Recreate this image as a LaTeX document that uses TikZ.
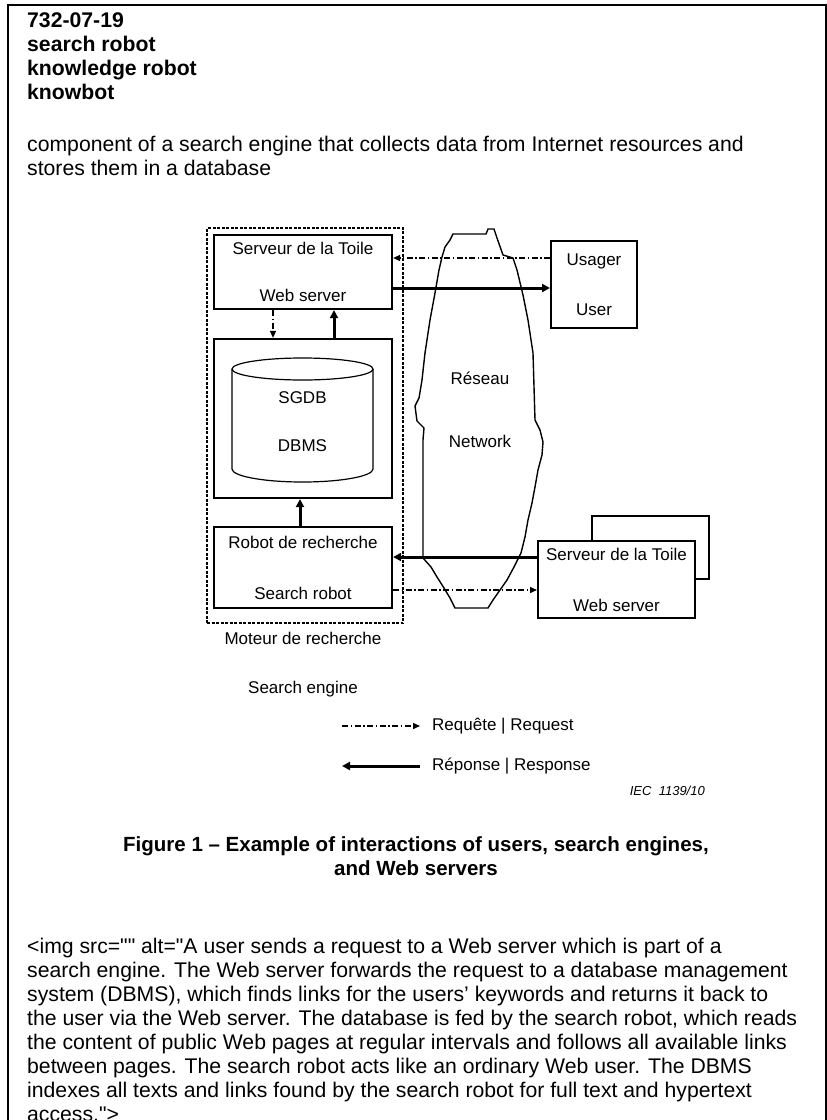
\documentclass[tikz,border=0pt]{standalone}
\usepackage{fontspec}
\setmainfont{Liberation Sans}
\usetikzlibrary{positioning, arrows.meta, calc}

\newcommand{\lblfont}{\fontsize{17}{20}\selectfont}
\newcommand{\txtfont}{\fontsize{21.2}{24}\selectfont}
\newcommand{\capfont}{\fontsize{20.5}{24}\selectfont}

\begin{document}
\begin{tikzpicture}[
  x=1pt, y=-1pt,
  >=Stealth,
  box/.style={rectangle, draw, line width=2.2pt, fill=white, align=center,
    font=\lblfont, inner sep=0pt},
  engine/.style={rectangle, draw, line width=1.6pt,
    dash pattern=on 3pt off 1.5pt,
    minimum width=196pt, minimum height=395pt},
  resp/.style={-{Triangle[length=8pt, width=8pt]}, line width=3pt},
  req/.style={-{Triangle[length=7pt, width=6pt]}, line width=1.4pt,
    dash pattern=on 6pt off 2.5pt on 1.5pt off 2.5pt},
  lbl/.style={font=\lblfont, align=center, inner sep=0pt},
  txt/.style={font=\txtfont, anchor=base west, inner sep=0pt},
]
\useasboundingbox (0,0) rectangle (827,1120);

% --- Page frame and entry ---
\draw[line width=1.6pt] (8,1125) -- (8,5) -- (826,5) -- (826,1125);

\foreach \ltext [count=\i from 0] in {732-07-19, search robot,
    knowledge robot, knowbot}
  \node[txt, font=\txtfont\bfseries] (hd\i) at (27, 27+24*\i) {\ltext};

\node[txt] (def1) at (27,151)
  {component of a search engine that collects data from Internet resources and};
\node[txt] (def2) at (27,175) {stores them in a database};

% --- Search engine ---
\node[engine] (eng) at (305,425.5) {};
\node[box, minimum width=178pt, minimum height=74pt] (ws) at (303,272)
  {Serveur de la Toile\\[27pt]Web server};
\node[box, minimum width=178pt, minimum height=159pt] (db) at (303,418.5) {};
\node[box, minimum width=178pt, minimum height=81pt] (rob) at (303,567.5)
  {Robot de recherche\\[31pt]Search robot};

% database drum
\draw[line width=1.2pt, fill=white] (232,369) -- (232,469)
  arc[start angle=180, end angle=0, x radius=70.5, y radius=13] -- (373,369);
\draw[line width=1.2pt] (302.5,369) ellipse[x radius=70.5, y radius=11];
\node[lbl] (dbms) at (302.5,422) {SGDB\\[28pt]DBMS};

\draw[req] ([xshift=-30pt]ws.south) -- ([xshift=-30pt]db.north);
\draw[resp] ([xshift=31pt]db.north) -- ([xshift=31pt]ws.south);
\draw[resp] ([xshift=-3pt]rob.north) -- ([xshift=-3pt]db.south);

\node[lbl] (englbl) at (303,665) {Moteur de recherche\\[29pt]Search engine};

% --- Network ---
\draw[line width=1.4pt] (453,234) -- (486,234) -- (488,229) -- (494,229)
  -- (497,238) -- (503,255) -- (513,258) -- (517,270) -- (523,295)
  -- (528,320) -- (533,353) -- (535,420) -- (540,430) -- (543,442)
  -- (542,455) -- (538,470) -- (535,487) -- (532,503) -- (528,520)
  -- (525,537) -- (521,553) -- (514,567) -- (507,580) -- (500,590)
  -- (493,600) -- (488,608) -- (455,608) -- (450,598) -- (444,588)
  -- (437,577) -- (431,567) -- (423,558) -- (423,440) -- (424,428)
  -- (417,421) -- (415,406) -- (419,398) -- (422,380) -- (425,353)
  -- (430,320) -- (435,293) -- (439,270) -- (442,257) -- (445,247)
  -- (450,240) -- cycle;
\node[lbl] (net) at (480,410) {Réseau\\[43pt]Network};

% --- User and remote Web server ---
\node[box, line width=2pt, minimum width=86pt, minimum height=87pt] (usr)
  at (594,284.5) {Usager\\[30pt]User};
\node[box, line width=2pt, minimum width=117pt, minimum height=63pt] (rwsb)
  at (650.5,547.5) {};
\node[box, line width=2pt, minimum width=157pt, minimum height=77pt] (rws)
  at (616.5,579.5) {Serveur de la Toile\\[31pt]Web server};

\coordinate (q1) at ([yshift=14pt]ws.east);
\coordinate (r1) at ([yshift=-16pt]ws.east);
\draw[req] (usr.west |- q1) -- (q1);
\draw[resp] (r1) -- (usr.west |- r1);

\coordinate (r2) at ([yshift=22.5pt]rws.west);
\coordinate (q2) at ([yshift=-10.5pt]rws.west);
\draw[resp] (r2) -- (rob.east |- r2);
\draw[req] (rob.east |- q2) -- (q2);

% --- Legend ---
\coordinate (lq) at (342,726);
\node[lbl, anchor=west] (lreq) at (432,726) {Requête | Request};
\draw[req, shorten >=12pt] (lq) -- (lq -| lreq.west);
\coordinate (lr) at (342,766);
\node[lbl, anchor=west] (lres) at (432,766) {Réponse | Response};
\draw[resp, shorten <=12pt] (lr -| lres.west) -- (lr);

\node[font=\fontsize{13}{15}\selectfont\itshape, anchor=east, inner sep=0pt]
  (iec) at (705,791) {IEC\ \ 1139/10};

% --- Caption and alt text ---
\node[font=\capfont\bfseries, anchor=base] (cap1) at (416,851)
  {Figure 1 – Example of interactions of users, search engines,};
\node[font=\capfont\bfseries, anchor=base] (cap2) at (416,875) {and Web servers};

\foreach \ltext [count=\i from 0] in {
    {<img src=\textquotedbl\textquotedbl{} alt=\textquotedbl A user sends a request to a Web server which is part of a},
    {search engine. The Web server forwards the request to a database management},
    {system (DBMS), which finds links for the users’ keywords and returns it back to},
    {the user via the Web server. The database is fed by the search robot, which reads},
    {the content of public Web pages at regular intervals and follows all available links},
    {between pages. The search robot acts like an ordinary Web user. The DBMS},
    {indexes all texts and links found by the search robot for full text and hypertext},
    {access.\textquotedbl>}}
  \node[txt] (alt\i) at (27, 953+24*\i) {\ltext};

\end{tikzpicture}
\end{document}
